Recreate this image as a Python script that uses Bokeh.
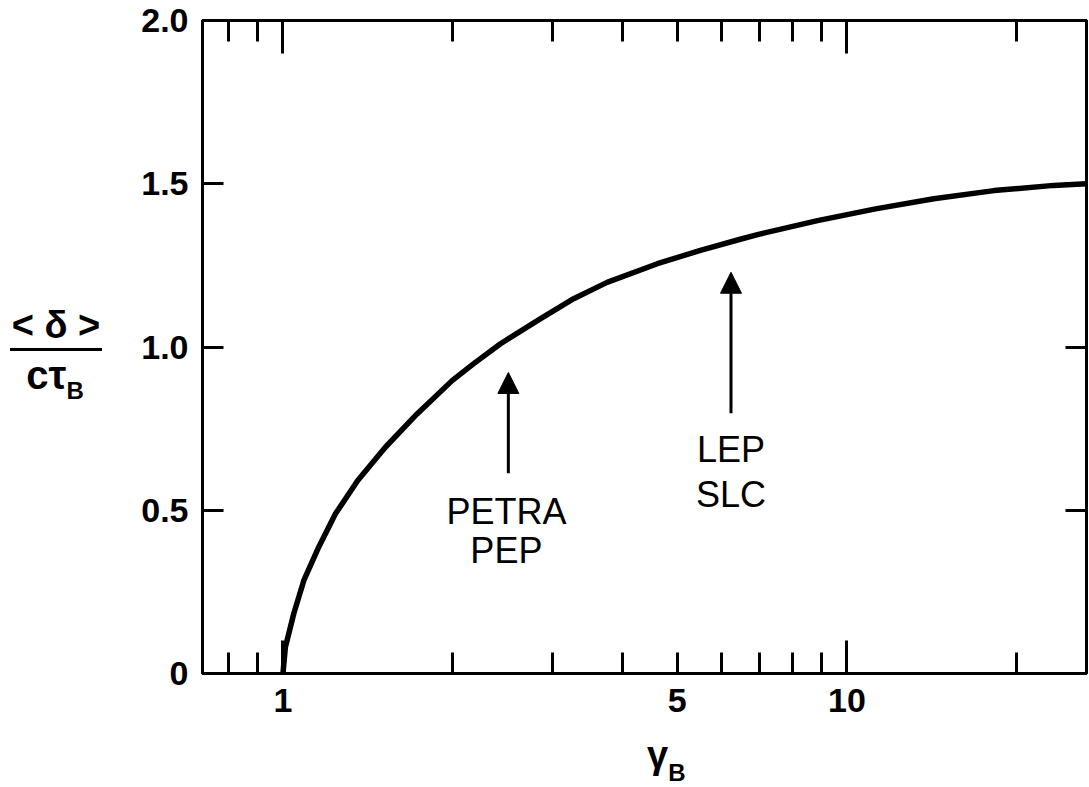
from bokeh.plotting import figure
from bokeh.models import (Range1d, LogAxis, LinearAxis, FixedTicker, PrintfTickFormatter,
                          Arrow, NormalHead, Label, Div)
from bokeh.layouts import row, column
from bokeh.embed import file_html
from bokeh.resources import INLINE

# ---- data ----
gamma_B = [1.0, 1.010, 1.045, 1.089, 1.157, 1.239, 1.357, 1.519, 1.729, 1.995, 2.179,
           2.431, 2.859, 3.277, 3.756, 4.612, 5.499, 6.470, 6.97, 8.87, 11.24, 14.26,
           18.23, 23.27, 26.6]
delta_over_ctau = [0.0, 0.081, 0.183, 0.285, 0.387, 0.489, 0.591, 0.693, 0.795, 0.897, 0.949,
                   1.010, 1.086, 1.148, 1.198, 1.255, 1.296, 1.330, 1.345, 1.387, 1.423, 1.454,
                   1.479, 1.495, 1.500]

x_major_ticks = [1, 10]
x_minor_ticks = [0.8, 0.9, 2, 3, 4, 5, 6, 7, 8, 9, 20]
x_label_ticks = [1, 5, 10]
x_label_texts = ["1", "5", "10"]
y_ticks = [0, 0.5, 1.0, 1.5, 2.0]
y_label_texts = ["0", "0.5", "1.0", "1.5", "2.0"]

arrow_x = [2.51, 6.23]
arrow_y_tail = [0.613, 0.797]
arrow_y_tip = [0.922, 1.229]
note_x = [2.49, 6.23]
note_lines = [["PETRA", "PEP"], ["LEP", "SLC"]]
note_y = [[0.497, 0.378], [0.686, 0.547]]

FONT = "Liberation Sans"

p = figure(x_axis_type="log", x_range=Range1d(0.72, 26.6), y_range=Range1d(0, 2.0),
           frame_width=884, frame_height=653,
           min_border_left=92, min_border_right=3, min_border_top=20, min_border_bottom=60,
           output_backend="svg", toolbar_location=None, margin=0)
p.grid.visible = False
p.outline_line_color = "black"
p.outline_line_width = 3
p.background_fill_color = "white"
p.border_fill_color = "white"


def tick_axis(ax, major, minor, major_len, minor_len):
    ax.ticker = FixedTicker(ticks=major, minor_ticks=minor)
    ax.axis_line_width = 3
    ax.axis_line_color = "black"
    ax.major_tick_in = major_len
    ax.major_tick_out = 0
    ax.minor_tick_in = minor_len
    ax.minor_tick_out = 0
    ax.major_tick_line_width = 3
    ax.minor_tick_line_width = 3
    ax.major_label_text_font_size = "0px"
    ax.major_label_text_alpha = 0
    ax.major_label_standoff = 0
    ax.axis_label = None


# bottom: ticks-only axis next to the frame
xb = p.below[0]
tick_axis(xb, x_major_ticks, x_minor_ticks, 33, 21)

# bottom: label axis
xl = LogAxis(ticker=FixedTicker(ticks=x_label_ticks, minor_ticks=[]),
             major_label_overrides={t: s for t, s in zip(x_label_ticks, x_label_texts)})
xl.axis_line_color = None
xl.major_tick_in = 0
xl.major_tick_out = 0
xl.minor_tick_in = 0
xl.minor_tick_out = 0
xl.major_label_standoff = 15
xl.major_label_text_font = FONT
xl.major_label_text_font_style = "bold"
xl.major_label_text_font_size = "34px"
xl.major_label_text_color = "black"
p.add_layout(xl, "below")

# top ticks
xt = LogAxis()
tick_axis(xt, x_major_ticks, x_minor_ticks, 33, 21)
p.add_layout(xt, "above")

# left axis with labels
yl = p.left[0]
yl.ticker = FixedTicker(ticks=y_ticks, minor_ticks=[])
yl.formatter = PrintfTickFormatter(format="%.1f")
yl.major_label_overrides = {t: s for t, s in zip(y_ticks, y_label_texts)}
yl.axis_line_width = 3
yl.major_tick_in = 21
yl.major_tick_out = 0
yl.major_tick_line_width = 3
yl.minor_tick_in = 0
yl.minor_tick_out = 0
yl.major_label_standoff = 14
yl.major_label_text_font = FONT
yl.major_label_text_font_style = "bold"
yl.major_label_text_font_size = "34px"
yl.major_label_text_color = "black"

# right ticks
yr = LinearAxis()
tick_axis(yr, y_ticks, [], 21, 0)
p.add_layout(yr, "right")

# curve
p.line(gamma_B, delta_over_ctau, line_width=5.5, line_color="black", line_join="round", line_cap="round")

# arrows and notes
for xa, yt, yh in zip(arrow_x, arrow_y_tail, arrow_y_tip):
    p.add_layout(Arrow(x_start=xa, y_start=yt, x_end=xa, y_end=yh, line_width=3, line_color="black",
                       end=NormalHead(size=21, fill_color="black", line_color="black", line_width=1)))
for xn, lines, ys in zip(note_x, note_lines, note_y):
    for txt, yv in zip(lines, ys):
        p.add_layout(Label(x=xn, y=yv, text=txt, text_align="center", text_baseline="middle",
                           text_font=FONT, text_font_size="36px", text_color="black"))

# y-axis title (fraction) and x-axis title as HTML text beside / below the plot
y_title_html = (
    '<div style="padding-top:306px; width:110px; font-family:\'Liberation Sans\'; '
    'font-weight:bold; color:black; text-align:center;">'
    '<div style="font-size:38px; line-height:38px; padding-bottom:4px; margin-left:10px; '
    'margin-right:8px; border-bottom:3px solid black; white-space:nowrap;">&lt; &delta; &gt;</div>'
    '<div style="font-size:40px; line-height:40px; margin-top:4px; white-space:nowrap;">'
    'c&tau;<span style="font-size:24px; position:relative; top:10px;">B</span></div>'
    '</div>'
)
x_title_html = (
    '<div style="padding-top:3px; padding-left:647px; font-family:\'Liberation Sans\'; '
    'font-weight:bold; color:black; font-size:38px; line-height:38px; white-space:nowrap;">'
    '&gamma;<span style="font-size:24px; position:relative; top:13px;">B</span></div>'
)
y_title = Div(text=y_title_html, width=110, height=733, margin=0)
x_title = Div(text=x_title_html, width=1089, height=54, margin=0)

layout = column(row(y_title, p, margin=0, spacing=0), x_title, margin=0, spacing=0)

open("out.html", "w").write(file_html(layout, INLINE))
